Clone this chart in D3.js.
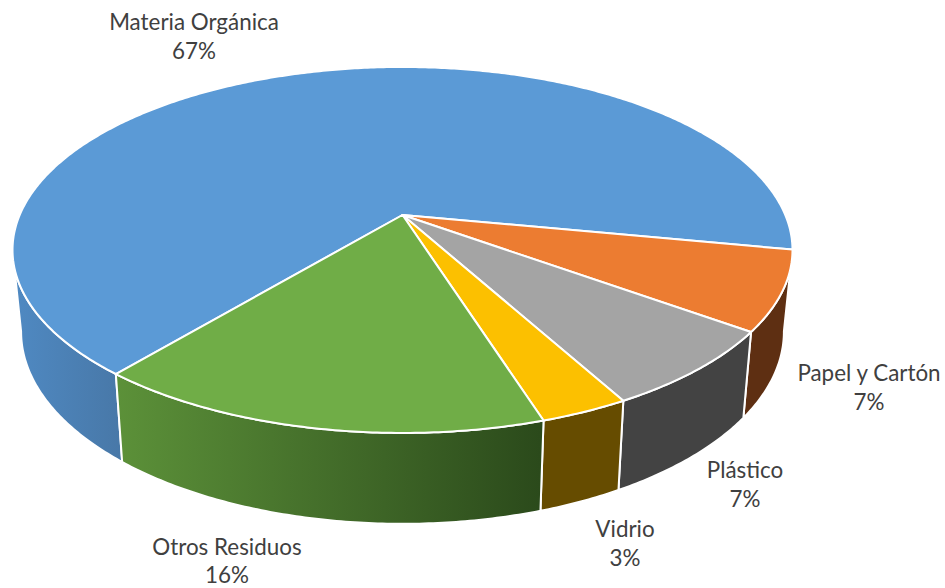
<!DOCTYPE html>
<html>
<head>
<meta charset="utf-8">
<script src="https://cdn.jsdelivr.net/npm/d3@7/dist/d3.min.js"></script>
<style>
html,body{margin:0;padding:0;background:#fff;}
svg{display:block;}
text{font-family:Lato,"Open Sans",sans-serif;font-size:22.4px;fill:#404040;text-anchor:middle;}
</style>
</head>
<body>
<svg id="chart" width="945" height="588"></svg>
<script>
const categories = ["Materia Orgánica","Papel y Cartón","Plástico","Vidrio","Otros Residuos"];
const shares = [67,7,7,3.1,15.9];
const percentLabels = ["67%","7%","7%","3%","16%"];

const topColors = ["#5b9ad6","#ec7c31","#a4a4a4","#fcc000","#70ad47"];
const wallColors = [["#4f89c2","#4878a8"],["#5e2f12","#5e2f12"],["#434343","#434343"],["#664c00","#664c00"],["#5c9139","#2b4a1b"]];
const labelSpots = [[194,30],[869,381],[745,478],[625,537],[227,555]];
const lineGaps = [29,29,29,29,28];

const W = 945, H = 588;
const apex = {x:402.5, y:215};
const a = 382.8, b = 176.3, p = -0.191;   // perspective of the disc
const wallScaleX = 0.978, wallScaleY = 1.05, wallDrop = 80;

const svg = d3.select("#chart").attr("viewBox",[0,0,W,H]);
const toRad = d3.scaleLinear().domain([0,360]).range([0,2*Math.PI]);

function disc(t){
  const u=Math.cos(t), v=Math.sin(t), d=1+p*v;
  return [a*u/d, b*v/d];
}
const topPt = t => { const [x,y]=disc(t); return [apex.x+x, apex.y+y]; };
const botPt = t => { const [x,y]=disc(t); return [apex.x+x*wallScaleX, apex.y+y*wallScaleY+wallDrop]; };

const pie = d3.pie().sort(null).value(d=>d)
  .startAngle(toRad(129.7)).endAngle(toRad(129.7)+2*Math.PI);
const arcs = pie(shares);

const line = d3.line();
const sweep = (f,t0,t1) => {
  const n = Math.max(2,Math.ceil(Math.abs(t1-t0)/0.01));
  return d3.range(n+1).map(i=>f(t0+(t1-t0)*i/n));
};

// gradients for the side walls
const defs = svg.append("defs");
arcs.forEach((d,i)=>{
  const g = defs.append("linearGradient").attr("id","wall"+i)
    .attr("gradientUnits","userSpaceOnUse")
    .attr("x1", i===0 ? 15 : i===4 ? 116 : 0).attr("x2", i===0 ? 120 : i===4 ? 540 : W)
    .attr("y1",0).attr("y2",0);
  g.append("stop").attr("offset",0).attr("stop-color",wallColors[i][0]);
  g.append("stop").attr("offset",1).attr("stop-color",wallColors[i][1]);
});

// only the front of the rim is visible, so the first slice stops at the left edge of the disc
const walls = svg.append("g");
arcs.forEach((d,i)=>{
  const t0 = d.startAngle, t1 = i===0 ? toRad(169) : d.endAngle;
  const pts = sweep(topPt,t0,t1).concat(sweep(botPt,t1,t0));
  walls.append("path").attr("d",line(pts)+"Z")
    .attr("fill","url(#wall"+i+")")
    .attr("stroke","#fff").attr("stroke-width",2).attr("stroke-linejoin","round");
});

// top faces
const tops = svg.append("g");
arcs.forEach((d,i)=>{
  const pts = [[apex.x,apex.y]].concat(sweep(topPt,d.startAngle,d.endAngle));
  tops.append("path").attr("d",line(pts)+"Z")
    .attr("fill",topColors[i])
    .attr("stroke","#fff").attr("stroke-width",2).attr("stroke-linejoin","round");
});

// labels
const labels = svg.append("g");
categories.forEach((c,i)=>{
  const [x,y] = labelSpots[i];
  labels.append("text").attr("x",x).attr("y",y).text(c);
  labels.append("text").attr("x",x).attr("y",y+lineGaps[i]).text(percentLabels[i]);
});
</script>
</body>
</html>
